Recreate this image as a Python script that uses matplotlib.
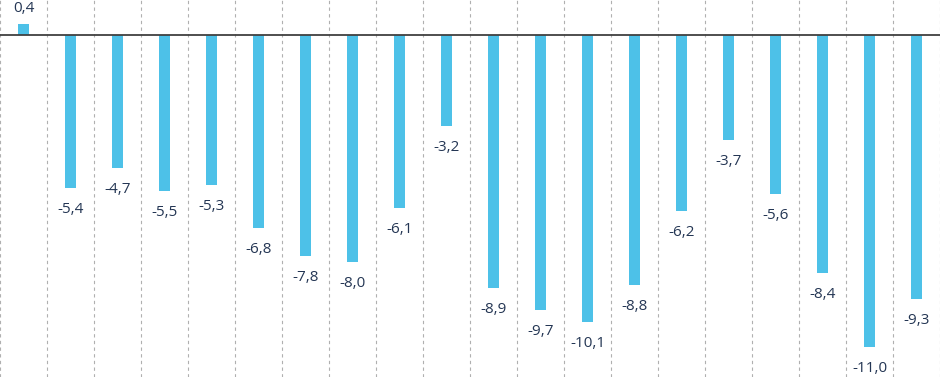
import matplotlib.pyplot as plt
import numpy as np

values = [0.4, -5.4, -4.7, -5.5, -5.3, -6.8, -7.8, -8.0, -6.1, -3.2,
          -8.9, -9.7, -10.1, -8.8, -6.2, -3.7, -5.6, -8.4, -11.0, -9.3]
labels = [f"{v:.1f}".replace('.', ',') for v in values]

bar_color = '#4DC1E8'
text_color = '#243654'

fig = plt.figure(figsize=(9.4, 3.77), dpi=100)
ax = fig.add_axes([0, 0, 1, 1])

x = np.arange(len(values)) + 0.5
ax.bar(x, values, width=0.23, color=bar_color, zorder=2)
ax.axhline(0, color='#404040', linewidth=1.3, zorder=3)

# value labels
for xi, v, lab in zip(x, values, labels):
    off = 11 if v > 0 else -15.5
    ax.annotate(lab, (xi, v), xytext=(0, off), textcoords='offset points',
                ha='center', va='center', fontsize=11, color=text_color,
                family='Open Sans')

# dashed separators between categories
ax.set_xticks(np.arange(0, len(values) + 1))
ax.grid(axis='x', color='#b0b0b0', linestyle=(0, (3, 3)), linewidth=0.8, zorder=1)
ax.set_xlim(0, len(values))
ax.set_ylim(-12.05, 1.23)
ax.tick_params(left=False, bottom=False, labelleft=False, labelbottom=False)
for s in ax.spines.values():
    s.set_visible(False)

fig.savefig('out.png', dpi=100)
